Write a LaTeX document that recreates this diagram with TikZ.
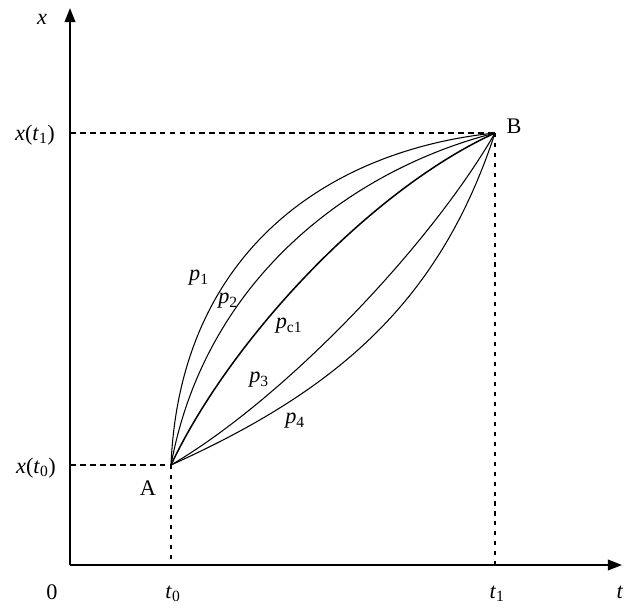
\documentclass[tikz,border=0pt]{standalone}
\usepackage{fontspec}
\setmainfont{Liberation Serif}
\usetikzlibrary{arrows.meta}
\begin{document}
\begin{tikzpicture}[x=0.03cm,y=-0.03cm,
  axis/.style={line width=1.6pt, -{Triangle[width=9pt,length=12pt]}},
  guide/.style={line width=1pt, dash pattern=on 5pt off 3.5pt},
  vguide/.style={line width=1.2pt, dash pattern=on 3.5pt off 5pt},
  curve/.style={line width=0.9pt},
  lbl/.style={font=\fontsize{19}{22}\selectfont, inner sep=0pt}]
\useasboundingbox (0,0) rectangle (626,608);
\coordinate (O) at (70,565);
\coordinate (ytop) at (70,8);
\coordinate (xend) at (622,565);
\coordinate (A) at (171,465);
\coordinate (B) at (495,133);
\coordinate (yA) at (70,465);
\coordinate (yB) at (70,133);
\coordinate (tA) at (171,565);
\coordinate (tB) at (495,565);
% guides
\draw[guide] (yB) -- (B);
\draw[guide] (yA) -- (A);
\draw[vguide] (B) -- (tB);
\draw[vguide] (A) -- (tA);
% axes
\draw[axis] (O) -- (ytop);
\draw[axis] (O) -- (xend);
% curves
\draw[curve] (A) .. controls (180,250) and (330,150) .. (B);
\draw[curve] (A) .. controls (205,280) and (350,170) .. (B);
\draw[curve, line width=1.3pt] (A) .. controls (230,340) and (370,190) .. (B);
\draw[curve] (A) .. controls (284,399) and (430,246) .. (B);
\draw[curve] (A) .. controls (335,391) and (439,304) .. (B);
% labels
\node[lbl] (lx) at (42,19) {\textit{x}};
\node[lbl] (lxt1) at (35,135) {\textit{x}(\textit{t}\textsubscript{1})};
\node[lbl] (lxt0) at (36,468) {\textit{x}(\textit{t}\textsubscript{0})};
\node[lbl] (l0) at (52,592) {0};
\node[lbl] (lt0) at (173,594) {\textit{t}\textsubscript{0}};
\node[lbl] (lt1) at (497,594) {\textit{t}\textsubscript{1}};
\node[lbl] (lt) at (620,592) {\textit{t}};
\node[lbl] (lA) at (148,488) {A};
\node[lbl] (lB) at (514,126) {B};
\node[lbl] (lp1) at (199,278) {\textit{p}\textsubscript{1}};
\node[lbl] (lp2) at (228,301) {\textit{p}\textsubscript{2}};
\node[lbl] (lpc) at (289,326) {\textit{p}\textsubscript{c1}};
\node[lbl] (lp3) at (259,380) {\textit{p}\textsubscript{3}};
\node[lbl] (lp4) at (295,421) {\textit{p}\textsubscript{4}};
\end{tikzpicture}
\end{document}
